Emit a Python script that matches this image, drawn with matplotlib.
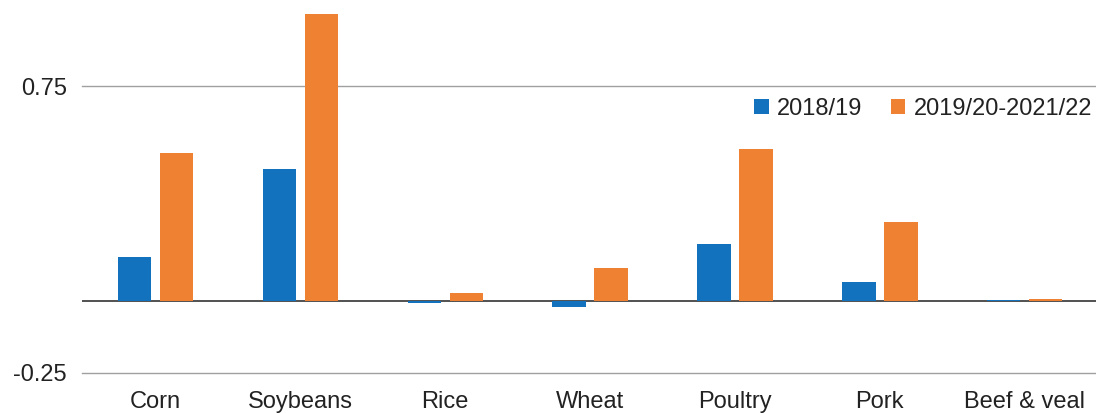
import numpy as np
import matplotlib.pyplot as plt

plt.rcParams['font.family'] = ['Liberation Sans', 'DejaVu Sans']

categories = ["Corn", "Soybeans", "Rice", "Wheat", "Poultry", "Pork", "Beef & veal"]
y2018 = [0.153, 0.460, -0.006, -0.020, 0.199, 0.066, 0.005]
y2019_22 = [0.516, 1.000, 0.028, 0.115, 0.530, 0.276, 0.009]
series_names = ["2018/19", "2019/20-2021/22"]

blue = "#1372BE"
orange = "#EF8232"

fig = plt.figure(figsize=(10.96, 4.13), dpi=100)
ax = fig.add_axes([0.0748, 0.097, 0.9252, 0.903])

x = np.arange(len(categories))
w = 0.23
off = 0.145
ax.bar(x - off, y2018, w, color=blue, label=series_names[0], zorder=3)
ax.bar(x + off, y2019_22, w, color=orange, label=series_names[1], zorder=3)

ax.set_xlim(-0.508, 6.492)
ax.set_ylim(-0.25, 1.05)
ax.set_yticks([-0.25, 0.75])
ax.set_yticklabels(["-0.25", "0.75"])
ax.set_xticks(x)
ax.set_xticklabels(categories)

for v in [-0.25, 0.75]:
    ax.axhline(v, color="#A0A0A0", lw=1.0, zorder=1, clip_on=False)
ax.axhline(0, color="#333333", lw=1.2, zorder=2)

for s in ax.spines.values():
    s.set_visible(False)
ax.tick_params(axis='both', length=0, labelsize=17, colors="#222222")
ax.tick_params(axis='y', pad=11)
ax.tick_params(axis='x', pad=13)

ax.legend(loc='center right', bbox_to_anchor=(0.996, 0.708), ncol=2, frameon=False,
          fontsize=17, handlelength=0.62, handleheight=0.62,
          handletextpad=0.35, columnspacing=1.2, borderaxespad=0, borderpad=0,
          labelcolor="#222222")

fig.savefig("out.png", dpi=100)
